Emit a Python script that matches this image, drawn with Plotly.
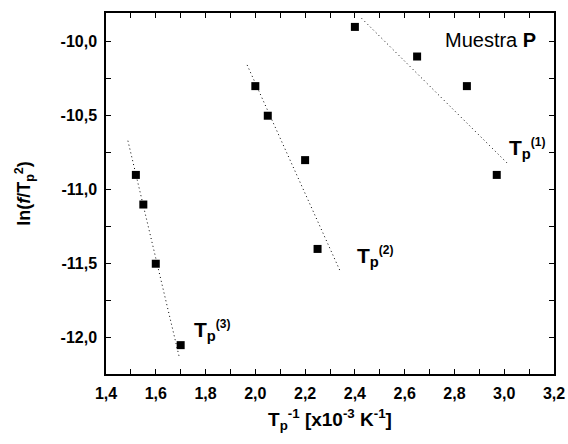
import plotly.graph_objects as go

# Data
x1 = [2.40, 2.65, 2.85, 2.97]
y1 = [-9.90, -10.10, -10.30, -10.90]
x2 = [2.00, 2.05, 2.20, 2.25]
y2 = [-10.30, -10.50, -10.80, -11.40]
x3 = [1.52, 1.55, 1.60, 1.70]
y3 = [-10.90, -11.10, -11.50, -12.05]

# Dotted linear-fit segments (end points)
fit1_x = [2.427, 3.013]
fit1_y = [-9.842, -10.822]
fit2_x = [1.967, 2.340]
fit2_y = [-10.157, -11.547]
fit3_x = [1.488, 1.694]
fit3_y = [-10.669, -12.128]

xtick_vals = [1.4, 1.6, 1.8, 2.0, 2.2, 2.4, 2.6, 2.8, 3.0, 3.2]
xtick_text = ["1,4", "1,6", "1,8", "2,0", "2,2", "2,4", "2,6", "2,8", "3,0", "3,2"]
ytick_vals = [-10.0, -10.5, -11.0, -11.5, -12.0]
ytick_text = ["-10,0", "-10,5", "-11,0", "-11,5", "-12,0"]

FONT = "Arial, 'Liberation Sans', sans-serif"

fig = go.Figure()
for fx, fy in [(fit1_x, fit1_y), (fit2_x, fit2_y), (fit3_x, fit3_y)]:
    fig.add_trace(go.Scatter(x=fx, y=fy, mode="lines",
                             line=dict(color="black", width=1, dash="1px,3px"),
                             showlegend=False, hoverinfo="skip"))
for xs, ys in [(x1, y1), (x2, y2), (x3, y3)]:
    fig.add_trace(go.Scatter(x=xs, y=ys, mode="markers",
                             marker=dict(symbol="square", size=8, color="black"),
                             showlegend=False))

axis_common = dict(
    showline=True, linecolor="black", linewidth=1.5, mirror="ticks",
    ticks="inside", ticklen=5, tickwidth=1, tickcolor="black",
    showgrid=False, zeroline=False, automargin=False,
    tickfont=dict(family=FONT, size=16, color="black", weight="bold"),
)

fig.update_xaxes(
    range=[1.4, 3.2], tickvals=xtick_vals, ticktext=["<b>%s</b>" % t for t in xtick_text],
    minor=dict(dtick=0.1, tick0=1.4, ticks="inside", ticklen=5, tickcolor="black", showgrid=False),
    title=dict(text="<b>T<sub>p</sub><sup>-1</sup> [x10<sup>-3</sup> K<sup>-1</sup>]</b>",
               font=dict(family=FONT, size=19, color="black"), standoff=12),
    ticklabelstandoff=4,
    **axis_common,
)
fig.update_yaxes(
    range=[-12.245, -9.806], tickvals=ytick_vals, ticktext=["<b>%s</b>" % t for t in ytick_text],
    minor=dict(dtick=0.25, tick0=-10.0, ticks="inside", ticklen=5, tickcolor="black", showgrid=False),
    title=dict(text="<b>ln(<i>f</i>/T<sub>p</sub><sup>2</sup>)</b>",
               font=dict(family=FONT, size=18, color="black"), standoff=25),
    ticklabelstandoff=4,
    **axis_common,
)

def tlabel(n):
    return "<b>T<sub>p</sub><sup><span style='font-size:12px'>(%d)</span></sup></b>" % n

ann_font = dict(family=FONT, size=21, color="black")
fig.add_annotation(x=3.01, y=-10.72, xref="x", yref="y", text=tlabel(1), showarrow=False,
                   xanchor="left", yanchor="middle", font=ann_font)
fig.add_annotation(x=2.40, y=-11.45, xref="x", yref="y", text=tlabel(2), showarrow=False,
                   xanchor="left", yanchor="middle", font=ann_font)
fig.add_annotation(x=1.745, y=-11.95, xref="x", yref="y", text=tlabel(3), showarrow=False,
                   xanchor="left", yanchor="middle", font=ann_font)
fig.add_annotation(x=3.135, y=-9.99, xref="x", yref="y", text="Muestra <b>P</b>", showarrow=False,
                   xanchor="right", yanchor="middle",
                   font=dict(family=FONT, size=20, color="black"))

fig.update_layout(
    width=568, height=444,
    margin=dict(l=106, r=14, t=13, b=70),
    paper_bgcolor="white", plot_bgcolor="white",
    font=dict(family=FONT, color="black"),
)

# remove the browser's default body margin so the figure fills the window exactly
fig.write_html("out.html", config={"displayModeBar": False},
               post_script="document.body.style.margin='0';")
